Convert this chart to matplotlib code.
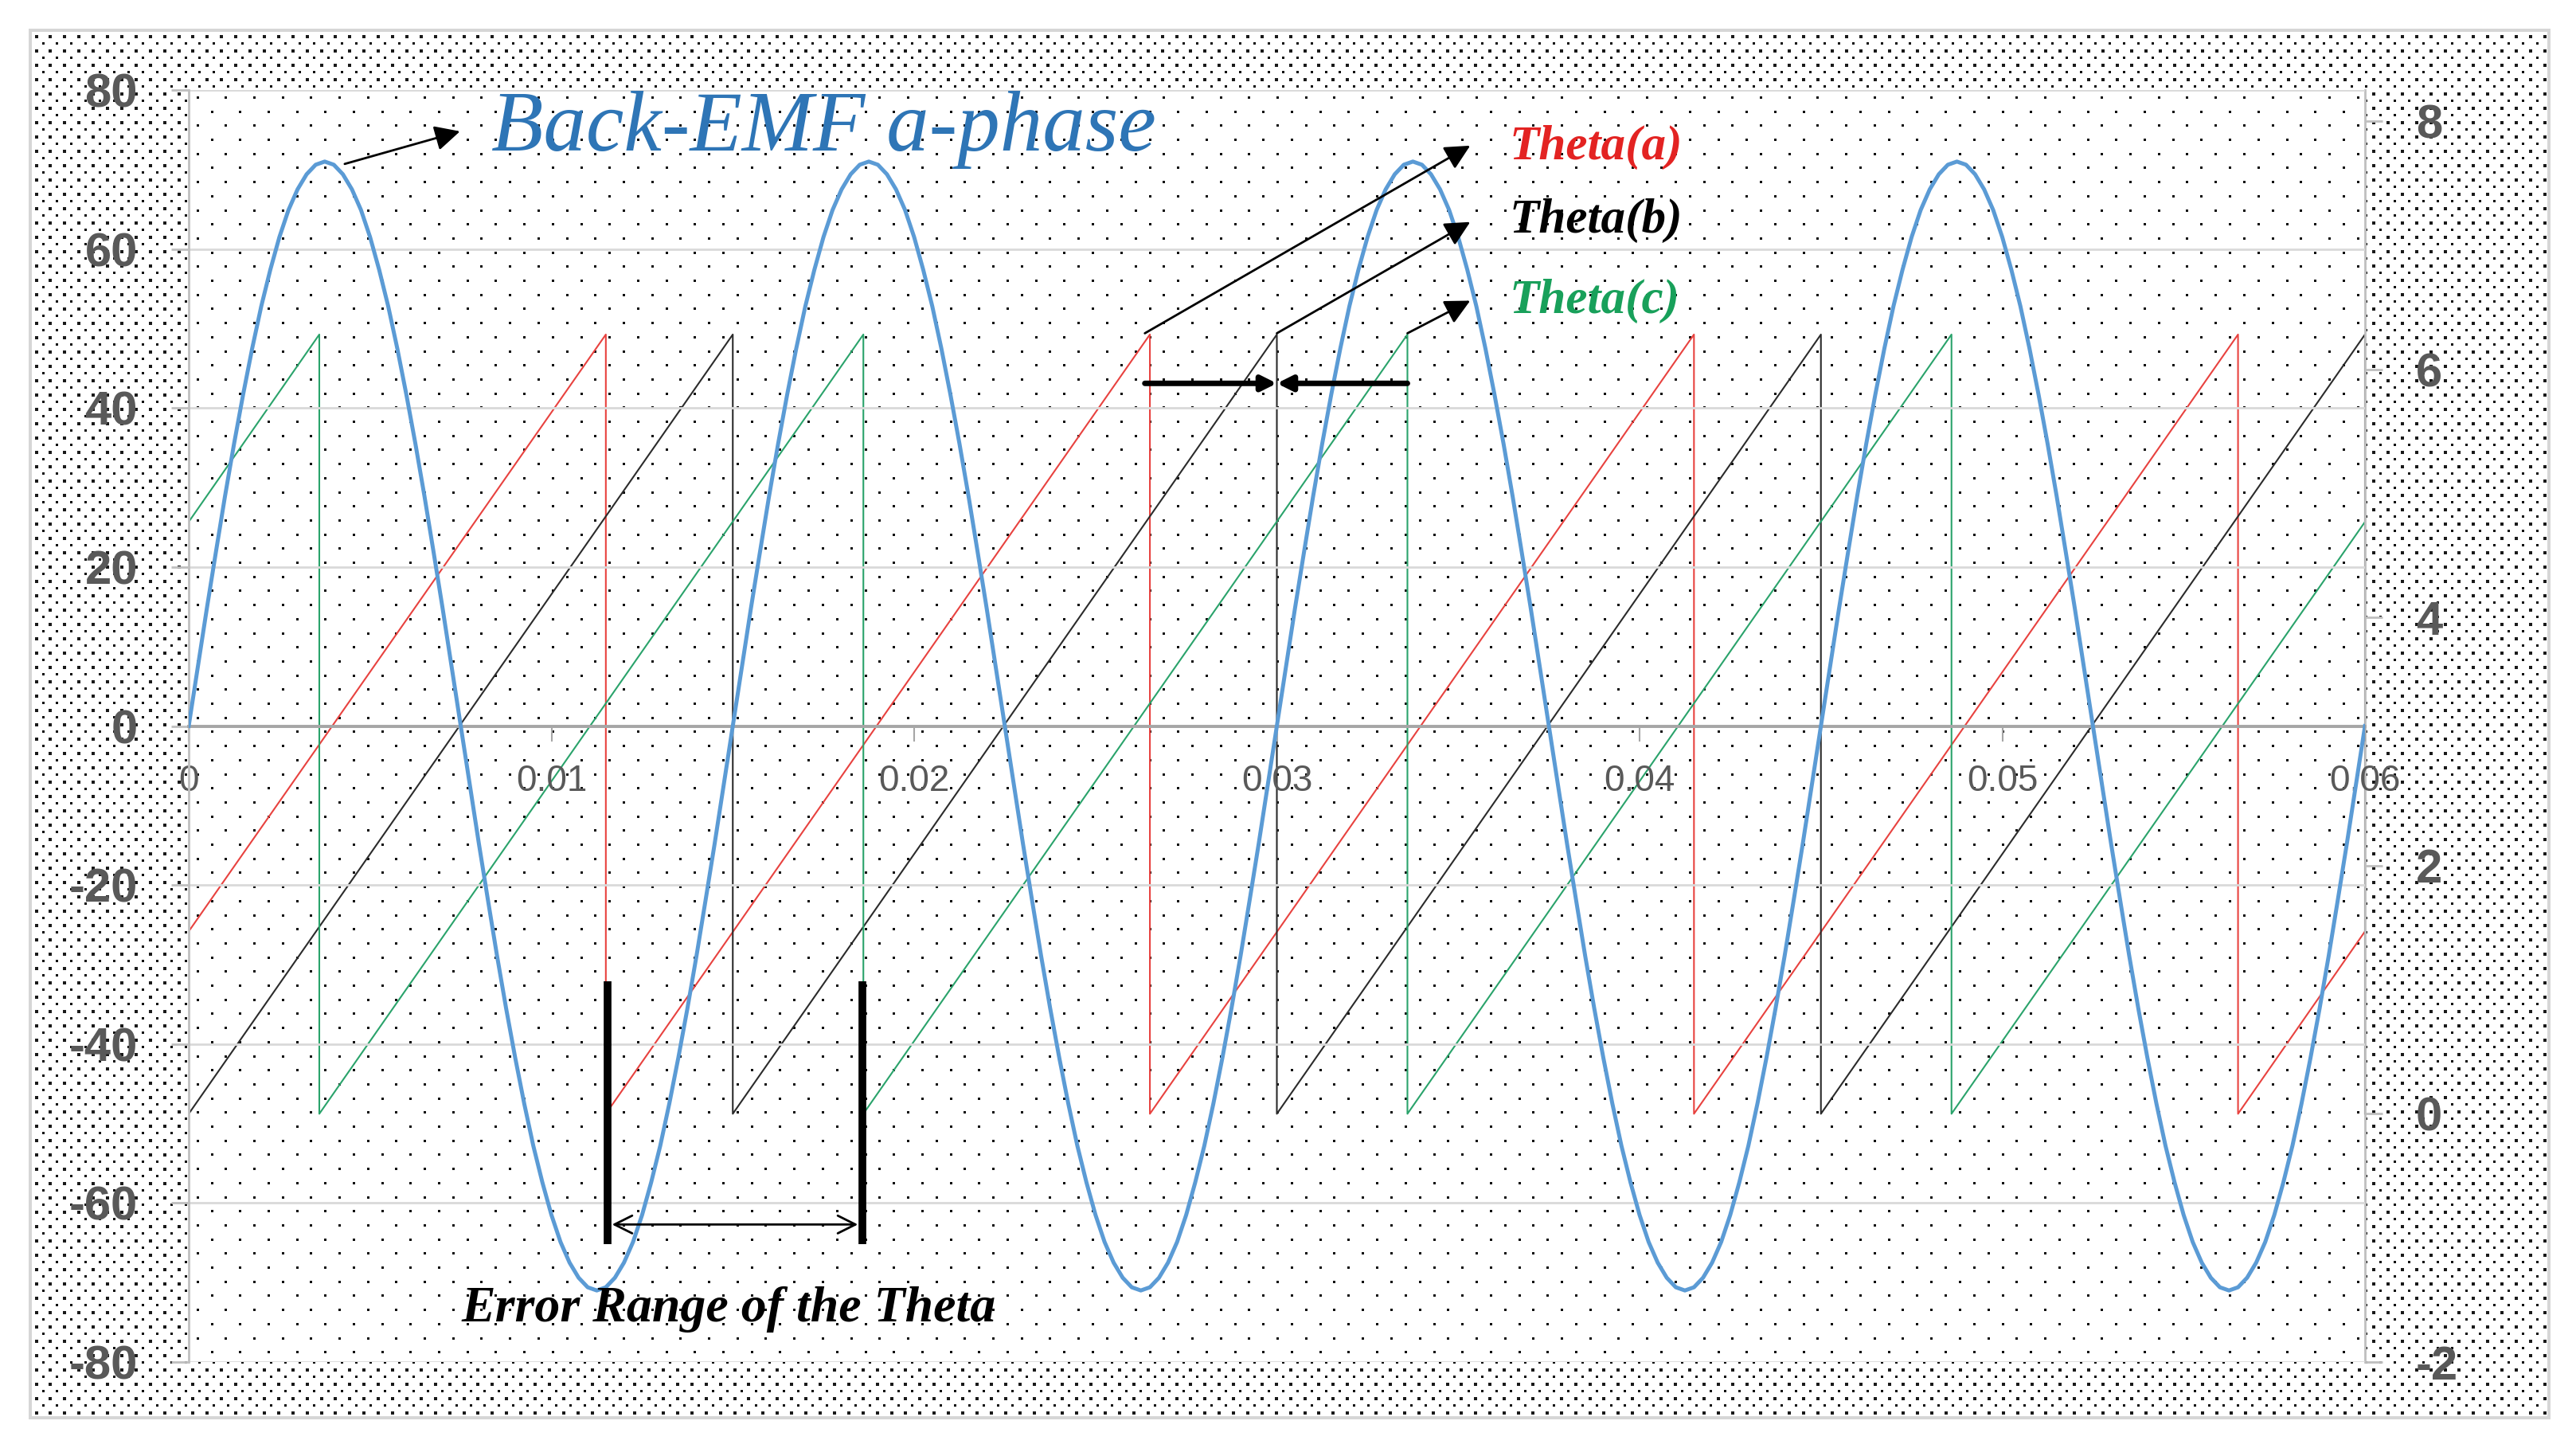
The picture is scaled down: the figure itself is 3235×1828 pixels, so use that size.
import numpy as np
import matplotlib.pyplot as plt

# --- data ---
time = np.round(np.arange(241) * 0.00025, 5)
back_emf = [
    0, 7.4, 14.8, 21.9, 28.9, 35.5, 41.7, 47.5, 52.8, 57.4, 61.5, 64.9, 67.5, 69.4, 70.6,
    71.0, 70.6, 69.4, 67.5, 64.9, 61.5, 57.4, 52.8, 47.5, 41.7, 35.5, 28.9, 21.9, 14.8, 7.4,
    0, -7.4, -14.8, -21.9, -28.9, -35.5, -41.7, -47.5, -52.8, -57.4, -61.5, -64.9, -67.5, -69.4, -70.6,
    -71.0, -70.6, -69.4, -67.5, -64.9, -61.5, -57.4, -52.8, -47.5, -41.7, -35.5, -28.9, -21.9, -14.8, -7.4,
    0, 7.4, 14.8, 21.9, 28.9, 35.5, 41.7, 47.5, 52.8, 57.4, 61.5, 64.9, 67.5, 69.4, 70.6,
    71.0, 70.6, 69.4, 67.5, 64.9, 61.5, 57.4, 52.8, 47.5, 41.7, 35.5, 28.9, 21.9, 14.8, 7.4,
    0, -7.4, -14.8, -21.9, -28.9, -35.5, -41.7, -47.5, -52.8, -57.4, -61.5, -64.9, -67.5, -69.4, -70.6,
    -71.0, -70.6, -69.4, -67.5, -64.9, -61.5, -57.4, -52.8, -47.5, -41.7, -35.5, -28.9, -21.9, -14.8, -7.4,
    0, 7.4, 14.8, 21.9, 28.9, 35.5, 41.7, 47.5, 52.8, 57.4, 61.5, 64.9, 67.5, 69.4, 70.6,
    71.0, 70.6, 69.4, 67.5, 64.9, 61.5, 57.4, 52.8, 47.5, 41.7, 35.5, 28.9, 21.9, 14.8, 7.4,
    0, -7.4, -14.8, -21.9, -28.9, -35.5, -41.7, -47.5, -52.8, -57.4, -61.5, -64.9, -67.5, -69.4, -70.6,
    -71.0, -70.6, -69.4, -67.5, -64.9, -61.5, -57.4, -52.8, -47.5, -41.7, -35.5, -28.9, -21.9, -14.8, -7.4,
    0, 7.4, 14.8, 21.9, 28.9, 35.5, 41.7, 47.5, 52.8, 57.4, 61.5, 64.9, 67.5, 69.4, 70.6,
    71.0, 70.6, 69.4, 67.5, 64.9, 61.5, 57.4, 52.8, 47.5, 41.7, 35.5, 28.9, 21.9, 14.8, 7.4,
    0, -7.4, -14.8, -21.9, -28.9, -35.5, -41.7, -47.5, -52.8, -57.4, -61.5, -64.9, -67.5, -69.4, -70.6,
    -71.0, -70.6, -69.4, -67.5, -64.9, -61.5, -57.4, -52.8, -47.5, -41.7, -35.5, -28.9, -21.9, -14.8, -7.4,
    0]

theta_a_t = [0, 0.0115, 0.0115, 0.0265, 0.0265, 0.0415, 0.0415, 0.0565, 0.0565, 0.06]
theta_a = [1.47, 6.28, 0, 6.28, 0, 6.28, 0, 6.28, 0, 1.47]
theta_b_t = [0, 0.015, 0.015, 0.03, 0.03, 0.045, 0.045, 0.06, 0.06]
theta_b = [0, 6.28, 0, 6.28, 0, 6.28, 0, 6.28, 0]
theta_c_t = [0, 0.0036, 0.0036, 0.0186, 0.0186, 0.0336, 0.0336, 0.0486, 0.0486, 0.06]
theta_c = [4.77, 6.28, 0, 6.28, 0, 6.28, 0, 6.28, 0, 4.77]

x_ticks = [0, 0.01, 0.02, 0.03, 0.04, 0.05, 0.06]
x_labels = ['0', '0.01', '0.02', '0.03', '0.04', '0.05', '0.06']
left_ticks = [-80, -60, -40, -20, 0, 20, 40, 60, 80]
right_ticks = [-2, 0, 2, 4, 6, 8]

W, H = 3235, 1828
fig = plt.figure(figsize=(W / 100, H / 100), dpi=100)

# --- dotted background (Excel pattern fill) ---
bg = np.ones((H, W, 3))
fx0, fy0, fx1, fy1 = 36, 36, 3203, 1782
for i, yy in enumerate(np.arange(fy0 + 8, fy1 - 4, 9.0)):
    y = int(round(yy))
    if i % 2 == 0:
        xs, s, c = np.arange(fx0 + 8, fx1 - 4, 17.9), 4, 0.1
    else:
        xs, s, c = np.arange(fx0 + 17, fx1 - 4, 17.9), 3, 0.05
    for x in xs.astype(int):
        bg[y:y + s, x:x + s] = c
bg[fy0:fy0 + 4, fx0:fx1] = 0.84
bg[fy1 - 4:fy1, fx0:fx1] = 0.84
bg[fy0:fy1, fx0:fx0 + 4] = 0.84
bg[fy0:fy1, fx1 - 4:fx1] = 0.84

px0, py0, px1, py1 = 237, 113, 2970, 1710
bg[py0:py1, px0:px1] = 1.0
for i, yy in enumerate(np.arange(py0 + 8, py1 - 4, 17.7)):
    y = int(round(yy))
    off = 10 if i % 2 == 0 else 28
    for x in np.arange(px0 + off, px1 - 4, 35.7).astype(int):
        bg[y:y + 3, x:x + 3] = 0.05
fig.figimage(bg, 0, 0, origin='upper', zorder=-10)

ax = fig.add_axes([px0 / W, 1 - py1 / H, (px1 - px0) / W, (py1 - py0) / H])
ax2 = ax.twinx()
ax.set_zorder(ax2.get_zorder() + 1)
ax.patch.set_visible(False)
ax2.patch.set_visible(False)

gray = '#595959'

# theta sawtooth on the secondary axis
ax2.plot(theta_a_t, theta_a, color='#E8423F', lw=1.5)
ax2.plot(theta_b_t, theta_b, color='#2B2B2B', lw=1.5)
ax2.plot(theta_c_t, theta_c, color='#2AA36B', lw=1.5)
ax2.set_ylim(-2, 8.25)
for side in ['left', 'top', 'bottom']:
    ax2.spines[side].set_visible(False)
ax2.spines['right'].set_color('#BFBFBF')
ax2.spines['right'].set_linewidth(2)
ax2.set_yticks(right_ticks)
ax2.set_yticklabels([str(v) for v in right_ticks], fontsize=43, fontweight='bold',
                    family='Liberation Sans', color=gray)
ax2.tick_params(axis='y', direction='out', length=16, width=2, color='#BFBFBF', pad=30)

# back-EMF on the primary axis
ax.plot(time, back_emf, color='#5B9BD5', lw=3.6, zorder=3)
ax.set_xlim(0, 0.06)
ax.set_ylim(-80, 80)
ax.spines['bottom'].set_position(('data', 0))
ax.spines['bottom'].set_color('#A6A6A6')
ax.spines['bottom'].set_linewidth(2.8)
ax.spines['left'].set_color('#BFBFBF')
ax.spines['left'].set_linewidth(2)
ax.spines['top'].set_visible(False)
ax.spines['right'].set_visible(False)
ax.set_yticks(left_ticks)
ax.set_yticklabels([str(v) for v in left_ticks], fontsize=43, fontweight='bold',
                   family='Liberation Sans', color=gray)
ax.set_xticks(x_ticks)
ax.set_xticklabels(x_labels, fontsize=33, family='Liberation Sans', color=gray)
ax.tick_params(axis='y', direction='out', length=16, width=2, color='#BFBFBF', pad=30)
ax.tick_params(axis='x', direction='out', length=14, width=1.5, color='#A6A6A6', pad=20)
ax.grid(axis='y', color='#D9D9D9', lw=2)
ax.grid(axis='x', visible=False)

# annotations
head = dict(arrowstyle='-|>', color='black', lw=2, mutation_scale=48, shrinkA=0, shrinkB=0)
ax.annotate('', xy=(0.00748, 74.8), xytext=(0.0043, 70.7), arrowprops=head, zorder=5)
ax.text(0.00834, 75.0, 'Back-EMF a-phase', fontsize=77, style='italic',
        family='Liberation Serif', color='#2E75B6', va='center', ha='left', zorder=5)

ax.annotate('', xy=(0.03533, 73.0), xytext=(0.02636, 49.4), arrowprops=head, zorder=5)
ax.annotate('', xy=(0.03533, 63.4), xytext=(0.0300, 49.4), arrowprops=head, zorder=5)
ax.annotate('', xy=(0.03533, 53.5), xytext=(0.0336, 49.4), arrowprops=head, zorder=5)
for y, label, col in [(72.8, 'Theta(a)', '#E32322'), (63.6, 'Theta(b)', 'black'),
                      (53.5, 'Theta(c)', '#18A05A')]:
    ax.text(0.03641, y, label, fontsize=44, fontweight='bold', style='italic',
            family='Liberation Serif', color=col, va='center', ha='left', zorder=5)

thick = dict(arrowstyle='-|>', color='black', lw=5, mutation_scale=28, shrinkA=0, shrinkB=0)
ax.annotate('', xy=(0.0300, 43.1), xytext=(0.02636, 43.1), arrowprops=thick, zorder=5)
ax.annotate('', xy=(0.0300, 43.1), xytext=(0.0336, 43.1), arrowprops=thick, zorder=5)

ax.plot([0.01155, 0.01155], [-32.1, -65.2], color='black', lw=7, solid_capstyle='butt', zorder=5)
ax.plot([0.01857, 0.01857], [-32.1, -65.2], color='black', lw=7, solid_capstyle='butt', zorder=5)
ax.annotate('', xy=(0.01845, -62.7), xytext=(0.01167, -62.7),
            arrowprops=dict(arrowstyle='<->', color='black', lw=2, mutation_scale=40,
                            shrinkA=0, shrinkB=0), zorder=5)
ax.text(0.01488, -73.4, 'Error Range of the Theta', fontsize=46, fontweight='bold',
        style='italic', family='Liberation Serif', color='black', va='center', ha='center', zorder=5)

fig.savefig('out.png', dpi=100)
